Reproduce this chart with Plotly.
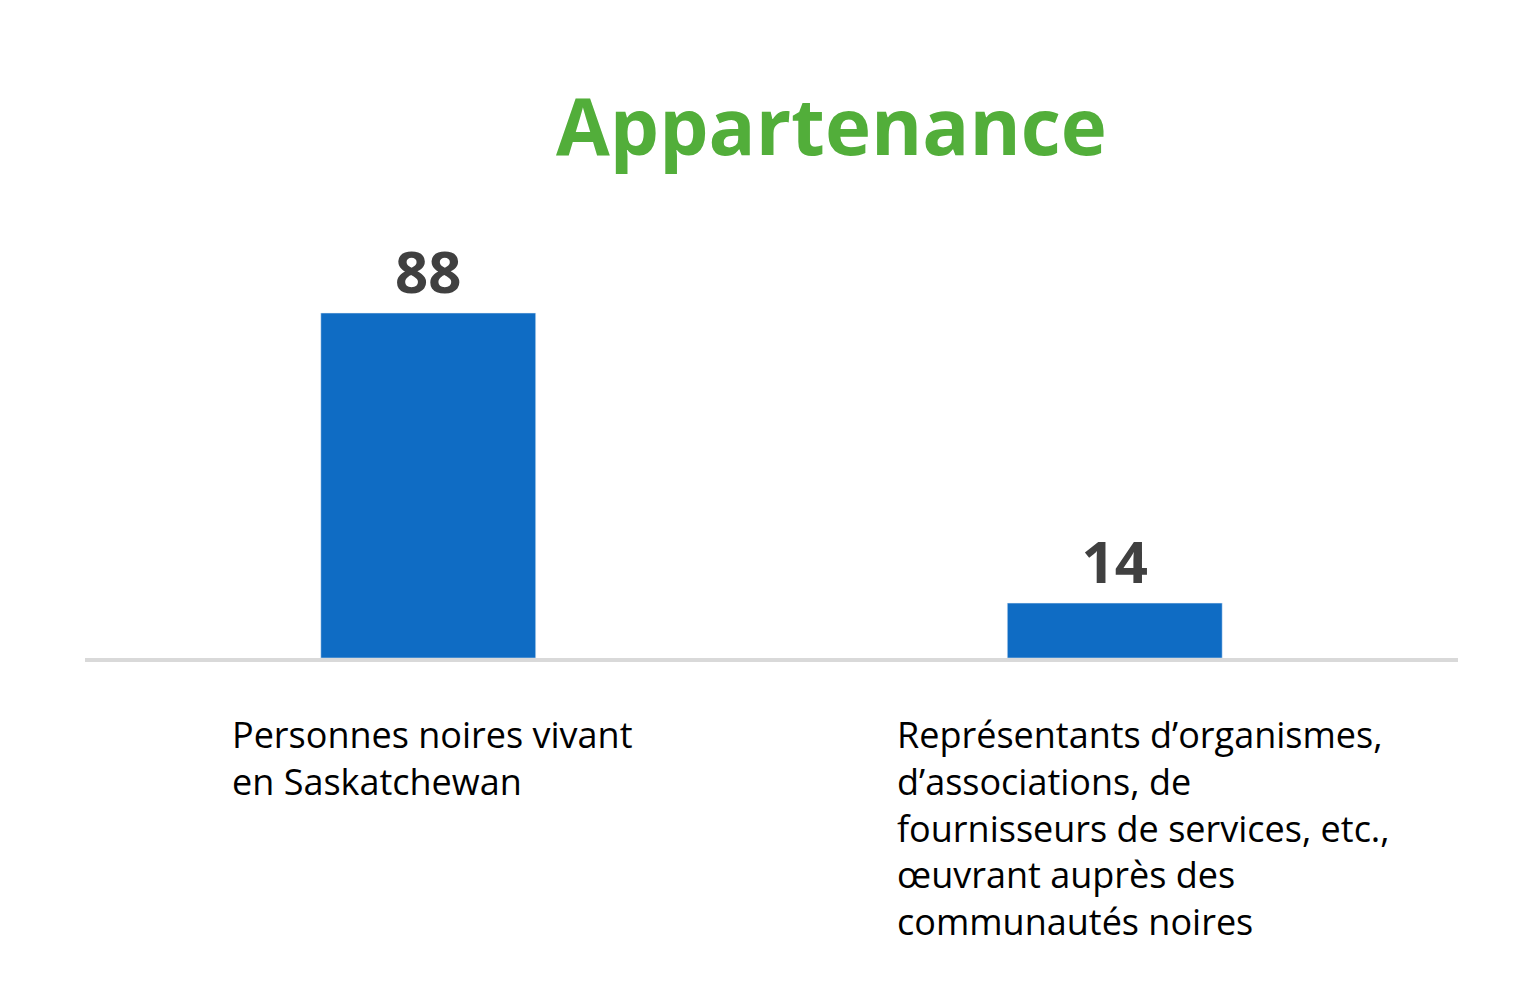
import plotly.graph_objects as go

categories = ["Personnes noires vivant<br>en Saskatchewan",
              "Représentants d’organismes,<br>d’associations, de<br>fournisseurs de services, etc.,<br>œuvrant auprès des<br>communautés noires"]
values = [88, 14]
label_shift = [-198, -220]

x = [0, 1]
fig = go.Figure(go.Bar(
    x=x, y=values, width=0.313, marker_color="#0F6CC4",
    text=[str(v) for v in values], textposition="outside", cliponaxis=False,
    textfont=dict(family="Open Sans", size=58, color="#404040", weight="bold"),
))
for xi, c, s in zip(x, categories, label_shift):
    fig.add_annotation(x=xi, xref="x", y=0, yref="paper", yanchor="top", xanchor="left",
                       xshift=s, yshift=-50, text=c, showarrow=False, align="left",
                       font=dict(family="Open Sans", size=36, color="#000000"))
fig.add_annotation(x=823, xref="paper", y=117, yref="paper", text="Appartenance", showarrow=False,
                   font=dict(family="Open Sans", size=78, color="#52AE3A", weight="bold"))
fig.layout.annotations[-1].update(xref="paper", yref="paper", x=(823-77)/1373, y=1+(258-117)/392,
                                  yanchor="middle", xanchor="center")
fig.update_layout(
    width=1530, height=1003, margin=dict(l=77, r=80, t=258, b=353),
    plot_bgcolor="white", paper_bgcolor="white", showlegend=False,
    xaxis=dict(range=[-0.5, 1.5], showticklabels=False, showgrid=False, zeroline=False,
               showline=True, linecolor="#D9D9D9", linewidth=4, ticks=""),
    yaxis=dict(range=[0, 100], visible=False),
)
fig.write_html("out.html")
